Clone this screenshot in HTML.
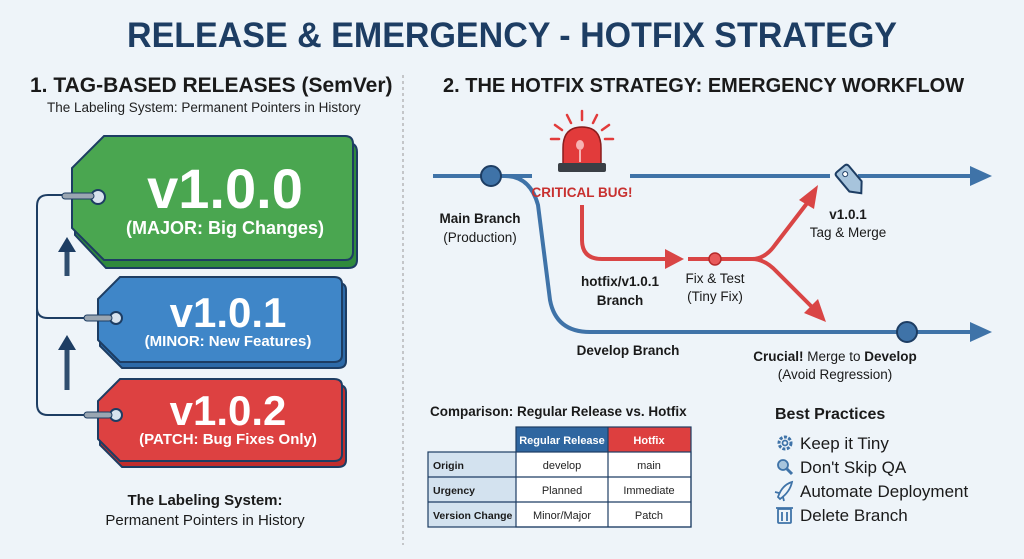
<!DOCTYPE html>
<html><head><meta charset="utf-8"><style>
html,body{margin:0;padding:0;background:#eef4f9;}
svg{display:block;font-family:"Liberation Sans",sans-serif;}
</style></head><body>
<svg width="1024" height="559" viewBox="0 0 1024 559" xmlns="http://www.w3.org/2000/svg">
<rect width="1024" height="559" fill="#eef4f9"/>
<text x="512" y="47" text-anchor="middle" font-size="35" font-weight="bold" fill="#1d3d63" textLength="770" lengthAdjust="spacingAndGlyphs">RELEASE &amp; EMERGENCY - HOTFIX STRATEGY</text>
<text x="30" y="92" font-size="21" font-weight="bold" fill="#1a1a1a">1. TAG-BASED RELEASES (SemVer)</text>
<text x="47" y="112" font-size="13.5" fill="#222">The Labeling System: Permanent Pointers in History</text>
<line x1="403" y1="75" x2="403" y2="545" stroke="#999" stroke-dasharray="3,3"/>
<text x="443" y="92" font-size="20" font-weight="bold" fill="#1a1a1a">2. THE HOTFIX STRATEGY: EMERGENCY WORKFLOW</text>

<!-- connector -->
<path d="M72,195 L48,195 Q37,195 37,206 L37,404 Q37,415 48,415 L100,415 M37,308 Q37,318 48,318 L100,318" fill="none" stroke="#1d3d63" stroke-width="2"/>
<path d="M67,276 L67,250" stroke="#2f4e6f" stroke-width="5"/><path d="M58,252 L67,237 L76,252Z" fill="#1d3d63"/>
<path d="M67,390 L67,350" stroke="#2f4e6f" stroke-width="5"/><path d="M58,350 L67,335 L76,350Z" fill="#1d3d63"/>

<!-- green tag -->
<path d="M106,143 L348,143 Q357,143 357,152 L357,260 Q357,268 348,268 L106,268 L75,235 L75,175 Z" fill="#2f8a3c" stroke="#1d3d63" stroke-width="2"/>
<path d="M104,136 L345,136 Q353,136 353,144 L353,252 Q353,260 345,260 L104,260 L72,228 L72,168 Z" fill="#4aa650" stroke="#1d3d63" stroke-width="2"/>
<circle cx="98" cy="197" r="7" fill="#d8e3ee" stroke="#1d3d63" stroke-width="2"/>
<rect x="62" y="193" width="32" height="6" rx="3" fill="#9aa6b2" stroke="#1d3d63" stroke-width="1"/>
<text x="225" y="208" text-anchor="middle" font-size="56" font-weight="bold" fill="#fff">v1.0.0</text>
<text x="225" y="234" text-anchor="middle" font-size="18" font-weight="bold" fill="#fff">(MAJOR: Big Changes)</text>

<!-- blue tag -->
<path d="M122,283 L338,283 Q346,283 346,290 L346,361 Q346,368 338,368 L122,368 L100,346 L100,305 Z" fill="#2d6aa8" stroke="#1d3d63" stroke-width="2"/>
<path d="M120,277 L334,277 Q342,277 342,284 L342,355 Q342,362 334,362 L120,362 L98,340 L98,299 Z" fill="#3f86c8" stroke="#1d3d63" stroke-width="2"/>
<circle cx="116" cy="318" r="6" fill="#d8e3ee" stroke="#1d3d63" stroke-width="2"/>
<rect x="84" y="315" width="28" height="6" rx="3" fill="#9aa6b2" stroke="#1d3d63" stroke-width="1"/>
<text x="228" y="327" text-anchor="middle" font-size="42" font-weight="bold" fill="#fff">v1.0.1</text>
<text x="228" y="346" text-anchor="middle" font-size="15" font-weight="bold" fill="#fff">(MINOR: New Features)</text>

<!-- red tag -->
<path d="M122,385 L338,385 Q346,385 346,392 L346,460 Q346,467 338,467 L122,467 L100,445 L100,407 Z" fill="#c02d2d" stroke="#1d3d63" stroke-width="2"/>
<path d="M120,379 L334,379 Q342,379 342,386 L342,454 Q342,461 334,461 L120,461 L98,439 L98,401 Z" fill="#dd4141" stroke="#1d3d63" stroke-width="2"/>
<circle cx="116" cy="415" r="6" fill="#d8e3ee" stroke="#1d3d63" stroke-width="2"/>
<rect x="84" y="412" width="28" height="6" rx="3" fill="#9aa6b2" stroke="#1d3d63" stroke-width="1"/>
<text x="228" y="425" text-anchor="middle" font-size="42" font-weight="bold" fill="#fff">v1.0.2</text>
<text x="228" y="444" text-anchor="middle" font-size="15" font-weight="bold" fill="#fff">(PATCH: Bug Fixes Only)</text>

<text x="205" y="505" text-anchor="middle" font-size="15" font-weight="bold" fill="#1a1a1a">The Labeling System:</text>
<text x="205" y="525" text-anchor="middle" font-size="15" fill="#1a1a1a">Permanent Pointers in History</text>

<!-- main & develop lines -->
<g fill="none" stroke="#3f73a8" stroke-width="4">
<path d="M433,176 L532,176"/>
<path d="M630,176 L830,176"/><path d="M858,176 L975,176"/>
<path d="M505,176 Q530,176 538,205 L550,300 Q556,332 590,332 L975,332"/>
</g>
<path d="M970,166 L992,176 L970,186Z" fill="#3f73a8"/>
<path d="M970,322 L992,332 L970,342Z" fill="#3f73a8"/>
<circle cx="491" cy="176" r="10" fill="#3f73a8" stroke="#1d3d63" stroke-width="2"/>
<circle cx="907" cy="332" r="10" fill="#3f73a8" stroke="#1d3d63" stroke-width="2"/>
<!-- tag icon (point lower-right) -->
<g transform="rotate(-40 851 181)">
<path d="M843,168 Q843,165 846,165 L856,165 Q859,165 859,168 L859,188 L851,197 L843,188Z" fill="#a7c4dc" stroke="#1d3d63" stroke-width="2"/>
<circle cx="851" cy="172" r="2.5" fill="#fff" stroke="#1d3d63"/>
</g>

<!-- siren -->
<g stroke="#e23b3b" stroke-width="2.5" stroke-linecap="round">
<line x1="582" y1="111" x2="582" y2="120"/><line x1="567" y1="115" x2="571" y2="123"/><line x1="597" y1="115" x2="593" y2="123"/>
<line x1="555" y1="125" x2="562" y2="130"/><line x1="609" y1="125" x2="602" y2="130"/><line x1="551" y1="139" x2="559" y2="139"/><line x1="613" y1="139" x2="605" y2="139"/>
</g>
<path d="M563,164 L563,148 Q563,127 582,127 Q601,127 601,148 L601,164Z" fill="#e23b3b" stroke="#8a1d1d" stroke-width="1.5"/>
<ellipse cx="580" cy="145" rx="4" ry="5" fill="#f7b3b3"/><line x1="580" y1="150" x2="580" y2="162" stroke="#f7b3b3" stroke-width="2"/>
<rect x="558" y="163" width="48" height="9" rx="2" fill="#3a3f45"/>
<text x="582" y="197" text-anchor="middle" font-size="13.5" font-weight="bold" fill="#c8302f">CRITICAL BUG!</text>

<!-- red path -->
<g fill="none" stroke="#d94545" stroke-width="4">
<path d="M582,205 L582,240 Q582,259 602,259 L668,259"/>
<path d="M688,259 L752,259 Q765,259 775,245 L808,202"/>
<path d="M752,259 Q765,259 777,272 L813,308"/>
</g>
<path d="M665,249 L684,259 L665,269Z" fill="#d94545"/>
<path d="M799,200 L818,185 L814,209Z" fill="#d94545"/>
<path d="M804,313 L826,322 L818,299Z" fill="#d94545"/>
<circle cx="715" cy="259" r="6" fill="#e85a5a" stroke="#b52b2b" stroke-width="1.5"/>

<g font-size="13.5" fill="#1a1a1a" text-anchor="middle">
<text x="480" y="223" font-weight="bold">Main Branch</text>
<text x="480" y="242">(Production)</text>
<text x="620" y="286" font-weight="bold">hotfix/v1.0.1</text>
<text x="620" y="305" font-weight="bold">Branch</text>
<text x="715" y="283">Fix &amp; Test</text>
<text x="715" y="301">(Tiny Fix)</text>
<text x="848" y="219" font-weight="bold">v1.0.1</text>
<text x="848" y="237">Tag &amp; Merge</text>
<text x="628" y="355" font-weight="bold">Develop Branch</text>
<text x="835" y="361"><tspan font-weight="bold">Crucial!</tspan> Merge to <tspan font-weight="bold">Develop</tspan></text>
<text x="835" y="379">(Avoid Regression)</text>
</g>

<!-- table -->
<text x="430" y="416" font-size="13.5" font-weight="bold" fill="#1a1a1a">Comparison: Regular Release vs. Hotfix</text>
<rect x="516" y="427" width="92" height="25" fill="#2f66a0"/>
<rect x="608" y="427" width="83" height="25" fill="#dd3f3f"/>
<rect x="428" y="452" width="88" height="75" fill="#d3e2ef"/>
<rect x="516" y="452" width="175" height="75" fill="#fff"/>
<g stroke="#1d3d63" stroke-width="1.2" fill="none">
<rect x="428" y="452" width="263" height="75"/>
<rect x="516" y="427" width="175" height="100"/>
<line x1="428" y1="477" x2="691" y2="477"/><line x1="428" y1="502" x2="691" y2="502"/>
<line x1="608" y1="427" x2="608" y2="527"/>
</g>
<g font-size="11" text-anchor="middle">
<text x="562" y="444" fill="#fff" font-weight="bold">Regular Release</text>
<text x="649" y="444" fill="#fff" font-weight="bold">Hotfix</text>
<text x="562" y="469" fill="#222">develop</text><text x="649" y="469" fill="#222">main</text>
<text x="562" y="494" fill="#222">Planned</text><text x="649" y="494" fill="#222">Immediate</text>
<text x="562" y="519" fill="#222">Minor/Major</text><text x="649" y="519" fill="#222">Patch</text>
</g>
<g font-size="10.5" font-weight="bold" fill="#1a1a1a">
<text x="433" y="469">Origin</text><text x="433" y="494">Urgency</text><text x="433" y="519">Version Change</text>
</g>

<!-- best practices -->
<text x="775" y="419" font-size="16" font-weight="bold" fill="#1a1a1a">Best Practices</text>
<g font-size="17" fill="#1a1a1a">
<text x="800" y="449">Keep it Tiny</text>
<text x="800" y="473">Don't Skip QA</text>
<text x="800" y="497">Automate Deployment</text>
<text x="800" y="521">Delete Branch</text>
</g>
<g fill="none" stroke="#3f73a8" stroke-width="1.8">
<circle cx="785" cy="443" r="6" stroke-dasharray="3,1.5" stroke-width="3"/><circle cx="785" cy="443" r="2.5"/>
<circle cx="783" cy="465" r="5" fill="#a7c4dc"/><line x1="787" y1="469" x2="792" y2="474" stroke-width="3"/>
<path d="M778,497 Q782,485 792,482 Q790,492 780,499Z M779,493 L775,492 M783,497 L784,501"/>
<rect x="778" y="509" width="13" height="14" rx="1"/><line x1="776" y1="508" x2="793" y2="508"/><line x1="782" y1="512" x2="782" y2="521"/><line x1="787" y1="512" x2="787" y2="521"/>
</g>
</svg>
</body></html>
